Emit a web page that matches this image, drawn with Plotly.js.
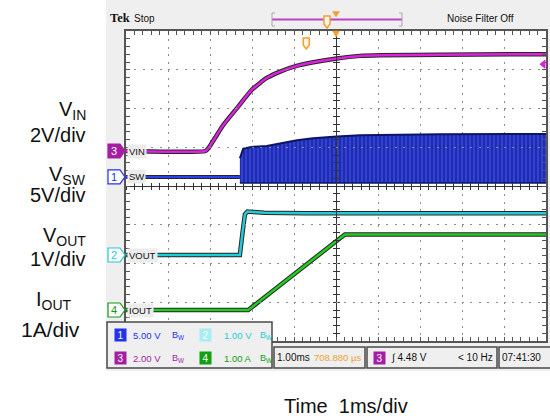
<!DOCTYPE html>
<html><head><meta charset="utf-8">
<script src="https://cdn.plot.ly/plotly-3.0.1.min.js"></script>
<style>html,body{margin:0;padding:0;background:#fff}#chart{width:550px;height:420px}</style>
</head><body><div id="chart"></div>
<script>
// ---------------- DATA (time in ms relative to trigger; amplitudes in V or A) ----------------
const H_POSITION_MS = 0.70888;          // "708.880 µs" horizontal position
const TIME_PER_DIV = 1;                 // 1.00 ms/div
const TRIG_LEVEL_V = 4.48;              // trigger on ch3 at 4.48 V

const VIN_T = [-4.29, -2.40, -2.33, -2.17, -1.975, -1.62, -1.30, -0.94, -0.62, -0.23, 0.17, 0.73, 1.28, 1.76, 3.19, 5.71];
const VIN_V = [0, 0, 0.14, 0.68, 1.34, 2.29, 3.15, 3.77, 4.10, 4.39, 4.58, 4.78, 4.91, 4.94, 4.97, 5.00];

const SW_IDLE_T = [-4.29, -1.58];
const SW_IDLE_V = [0, 0];
const SW_T    = [-1.58, -1.50, -1.30, -0.94, -0.22, 0.16, 0.73, 1.28, 3.19, 5.71];
const SW_HIGH = [2.40, 3.66, 3.87, 4.00, 4.73, 5.00, 5.20, 5.37, 5.50, 5.55];
const SW_LOW  = [-0.80, -0.80, -0.80, -0.80, -0.80, -0.80, -0.80, -0.80, -0.80, -0.80];

const VOUT_T = [-4.29, -1.58, -1.52, -1.46, -1.40, -1.00, 0.00, 2.00, 5.71];
const VOUT_V = [0, 0, 0.55, 1.05, 1.12, 1.09, 1.08, 1.08, 1.08];

const IOUT_T = [-4.29, -1.38, -0.80, -0.20, 0.40, 0.92, 2.00, 5.71];
const IOUT_A = [0, 0, 0.49, 1.00, 1.51, 1.95, 1.95, 1.95];

const CH_NAMES  = ['VIN', 'SW', 'VOUT', 'IOUT'];
const CH_SCALES = [2, 5, 1, 1];
const SIDE_LABELS = ['V<sub>IN</sub>', '2V/div', 'V<sub>SW</sub>', '5V/div', 'V<sub>OUT</sub>', '1V/div', 'I<sub>OUT</sub>', '1A/div'];
const X_LABEL = 'Time \u00a01ms/div';

// ---------------- LAYOUT / STYLE ----------------
const W = 550, H = 420;
const M = {l: 126, r: 4, t: 31, b: 79};
const PW = W - M.l - M.r, PH = H - M.t - M.b;
const px = x => (x - M.l) / PW;
const py = y => (H - M.b - y) / PH;

const SCOPE = '"Liberation Sans", Arial, sans-serif';
const MAIN = '"Liberation Sans", Arial, Helvetica, sans-serif';
const C = {blue: '#2233ee', cyan: '#22ccd6', purple: '#a41ea4', magenta: '#dd22dd', green: '#22cc22', dgreen: '#119911', orange: '#f0a030'};

// ground positions in divisions (from centre)
const GROUND_DIV = {VIN: 0.903, SW: 0.235, VOUT: -1.781, IOUT: -3.2};
const chRange = (g, s) => [(-4 - g) * s, (4 - g) * s];

const traces = [];
function pair(x, y, yaxis, color, w, shape) {
  const ln = shape === 'spline' ? {shape: 'spline', smoothing: 0.5} : {};
  traces.push({type: 'scatter', x, y, xaxis: 'x', yaxis, mode: 'lines', line: Object.assign({color: '#262626', width: w + 2}, ln), hoverinfo: 'skip', showlegend: false});
  traces.push({type: 'scatter', x, y, xaxis: 'x', yaxis, mode: 'lines', line: Object.assign({color, width: w}, ln), hoverinfo: 'skip', showlegend: false});
}
traces.push({type: 'scatter', x: SW_T, y: SW_LOW, xaxis: 'x', yaxis: 'y3', mode: 'lines', line: {color: '#0c1466', width: 1.5}, showlegend: false, hoverinfo: 'skip'});
traces.push({type: 'scatter', x: SW_T, y: SW_HIGH, xaxis: 'x', yaxis: 'y3', mode: 'lines', fill: 'tonexty', fillcolor: '#2c3cd4',
  fillpattern: {shape: '|', fgcolor: '#16207e', bgcolor: '#3040dc', size: 4, solidity: 0.3},
  line: {color: '#0c1466', width: 2}, showlegend: false, hoverinfo: 'skip'});
pair(SW_IDLE_T, SW_IDLE_V, 'y3', '#2a44f0', 2);
pair(VIN_T, VIN_V, 'y2', C.magenta, 2.5, 'spline');
pair(VOUT_T, VOUT_V, 'y4', C.cyan, 2.5);
pair(IOUT_T, IOUT_A, 'y5', C.green, 2.5);
// empty traces tying the centre cross-hair axes
traces.push({type: 'scatter', x: [], y: [], xaxis: 'x2', yaxis: 'y', showlegend: false});
traces.push({type: 'scatter', x: [], y: [], xaxis: 'x3', yaxis: 'y', showlegend: false});
traces.push({type: 'scatter', x: [], y: [], xaxis: 'x', yaxis: 'y6', showlegend: false});
traces.push({type: 'scatter', x: [], y: [], xaxis: 'x', yaxis: 'y7', showlegend: false});

const xr = [H_POSITION_MS - 5 * TIME_PER_DIV, H_POSITION_MS + 5 * TIME_PER_DIV];
const frame = {showticklabels: false, zeroline: false, fixedrange: true, showline: true, linecolor: '#555', linewidth: 2,
  mirror: 'allticks', ticks: 'inside', ticklen: 4, tickwidth: 1, tickcolor: '#555', showgrid: true, gridcolor: '#8c8c8c', gridwidth: 1};
const xaxis = Object.assign({}, frame, {range: xr, tick0: H_POSITION_MS, dtick: TIME_PER_DIV, griddash: '2px,5.75px',
  minor: {tick0: H_POSITION_MS, dtick: TIME_PER_DIV / 5, ticks: 'inside', ticklen: 4, tickcolor: '#555', showgrid: false}});
const yaxis = Object.assign({}, frame, {range: [-4, 4], tick0: 0, dtick: 1, griddash: '2px,6.4px',
  minor: {tick0: 0, dtick: 0.2, ticks: 'inside', ticklen: 4, tickcolor: '#555', showgrid: false}});
const cross = {showticklabels: false, zeroline: false, fixedrange: true, showgrid: false, showline: true, linecolor: '#333', linewidth: 1,
  ticklen: 3, tickwidth: 1, tickcolor: '#333', anchor: 'free', position: 0.5};
const x2 = Object.assign({}, cross, {overlaying: 'x', range: xr, tick0: H_POSITION_MS, dtick: TIME_PER_DIV / 5, ticks: 'outside'});
const x3 = Object.assign({}, cross, {overlaying: 'x', range: xr, tick0: H_POSITION_MS, dtick: TIME_PER_DIV / 5, ticks: 'inside'});
const y6 = Object.assign({}, cross, {overlaying: 'y', range: [-4, 4], tick0: 0, dtick: 0.2, ticks: 'outside'});
const y7 = Object.assign({}, cross, {overlaying: 'y', range: [-4, 4], tick0: 0, dtick: 0.2, ticks: 'inside'});
const hid = r => ({overlaying: 'y', range: r, fixedrange: true, showline: false, showgrid: false, zeroline: false, showticklabels: false, ticks: ''});

const shapes = [];
shapes.push({type: 'rect', xref: 'paper', yref: 'paper', x0: px(106), x1: px(551), y0: py(371), y1: py(0), fillcolor: '#efefef', line: {width: 0}, layer: 'below'});
shapes.push({type: 'rect', xref: 'paper', yref: 'paper', x0: 0, x1: 1, y0: 0, y1: 1, fillcolor: '#ffffff', line: {width: 0}, layer: 'below'});

const annotations = [];
function ann(text, x, y, o) {
  o = o || {};
  annotations.push({text, xref: 'paper', yref: 'paper', x: px(x), y: py(y), showarrow: false,
    xanchor: o.xa || 'left', yanchor: 'middle', font: {family: o.family || SCOPE, size: o.size || 10, color: o.color || '#111'}});
}

// channel ground markers + labels
const markerStyle = [
  {ax: 'y2', fill: C.purple, line: C.purple, txt: '3', tcol: '#fff'},
  {ax: 'y3', fill: '#ffffff', line: C.blue, txt: '1', tcol: C.blue},
  {ax: 'y4', fill: '#ffffff', line: C.cyan, txt: '2', tcol: C.cyan},
  {ax: 'y5', fill: '#ffffff', line: C.dgreen, txt: '4', tcol: C.dgreen}
];
markerStyle.forEach((m, i) => {
  shapes.push({type: 'path', xref: 'paper', yref: m.ax, xsizemode: 'pixel', ysizemode: 'pixel', xanchor: 0, yanchor: 0,
    path: 'M-18,7 L-6,7 L-1,0 L-6,-7 L-18,-7 Z', fillcolor: m.fill, line: {color: m.line, width: 1.2}, layer: 'above'});
  annotations.push({text: m.txt, xref: 'paper', yref: m.ax, x: 0, y: 0, xshift: -12, showarrow: false, xanchor: 'center', yanchor: 'middle',
    font: {family: SCOPE, size: 11, color: m.tcol}});
  annotations.push({text: CH_NAMES[i], xref: 'paper', yref: m.ax, x: 0, y: 0, xshift: 1, showarrow: false, xanchor: 'left', yanchor: 'middle',
    font: {family: SCOPE, size: 9.5, color: '#111'}, bgcolor: '#ececec', borderpad: 1});
});

// trigger level arrow (right edge, ch3 scale)
shapes.push({type: 'path', xref: 'paper', yref: 'y2', xsizemode: 'pixel', ysizemode: 'pixel', xanchor: 1, yanchor: TRIG_LEVEL_V,
  path: 'M-6,0 L-1,4 L-1,-4 Z', fillcolor: C.magenta, line: {color: C.magenta, width: 1}, layer: 'above'});
// trigger point marker (t = 0)
shapes.push({type: 'path', xref: 'x', yref: 'paper', xsizemode: 'pixel', ysizemode: 'pixel', xanchor: 0, yanchor: py(38),
  path: 'M-3,0 L3,0 L3,-7 L0,-11 L-3,-7 Z', fillcolor: '#fff4e6', line: {color: C.orange, width: 1.5}, layer: 'above'});
// expansion point triangle at top of graticule
shapes.push({type: 'path', xref: 'paper', yref: 'paper', path: `M${px(332.5)},${py(31)} L${px(339.5)},${py(31)} L${px(336)},${py(37)} Z`,
  fillcolor: C.orange, line: {color: C.orange, width: 0.5}, layer: 'above'});

// top record bar
shapes.push({type: 'line', xref: 'paper', yref: 'paper', x0: px(272), x1: px(402), y0: py(19.5), y1: py(19.5), line: {color: '#c040c8', width: 2}});
shapes.push({type: 'path', xref: 'paper', yref: 'paper', path: `M${px(275)},${py(13)} L${px(272)},${py(13)} L${px(272)},${py(26)} L${px(275)},${py(26)}`, line: {color: '#a8a8a8', width: 1}});
shapes.push({type: 'path', xref: 'paper', yref: 'paper', path: `M${px(399)},${py(13)} L${px(402)},${py(13)} L${px(402)},${py(26)} L${px(399)},${py(26)}`, line: {color: '#a8a8a8', width: 1}});
shapes.push({type: 'path', xref: 'paper', yref: 'paper', path: `M${px(324)},${py(16)} L${px(330)},${py(16)} L${px(330)},${py(24)} L${px(327)},${py(28)} L${px(324)},${py(24)} Z`,
  fillcolor: '#fff4e6', line: {color: C.orange, width: 1.5}});
shapes.push({type: 'path', xref: 'paper', yref: 'paper', path: `M${px(332.5)},${py(11.5)} L${px(339.5)},${py(11.5)} L${px(336)},${py(17)} Z`,
  fillcolor: C.orange, line: {color: C.orange, width: 0.5}});

ann('<b>Tek</b>', 108, 17.5, {family: '"Liberation Serif", "DejaVu Serif", serif', size: 12.5});
ann('Stop', 132, 19, {size: 10});
ann('Noise Filter Off', 445, 19, {size: 10});

// info panels
const panel = (x0, x1, y0, y1) => shapes.push({type: 'rect', xref: 'paper', yref: 'paper', x0: px(x0), x1: px(x1), y0: py(y1), y1: py(y0),
  fillcolor: '#efefef', line: {color: '#4a4a4a', width: 1.5}, layer: 'above'});
panel(107, 272, 322, 368);
panel(274, 365, 347, 368);
panel(367, 497, 347, 368);
panel(499, 556, 347, 368);

const badge = (t, x, y, bg) => annotations.push({text: t, xref: 'paper', yref: 'paper', x: px(x), y: py(y), showarrow: false,
  xanchor: 'center', yanchor: 'middle', width: 11, height: 12, bgcolor: bg, borderpad: 0, font: {family: SCOPE, size: 10, color: '#fff'}});
badge('1', 120, 335, C.blue); badge('3', 120, 358, C.purple); badge('2', 205, 335, '#a6eef2'); badge('4', 205, 358, '#11a011');
ann(CH_SCALES[1].toFixed(2) + ' V', 131, 335, {color: C.blue, size: 9.5});
ann('B<sub>W</sub>', 170, 335, {color: C.blue, size: 9});
ann(CH_SCALES[2].toFixed(2) + ' V', 222, 335, {color: C.cyan, size: 9.5});
ann('B<sub>W</sub>', 258, 335, {color: C.cyan, size: 9});
ann(CH_SCALES[0].toFixed(2) + ' V', 131, 358, {color: C.purple, size: 9.5});
ann('B<sub>W</sub>', 170, 358, {color: C.purple, size: 9});
ann(CH_SCALES[3].toFixed(2) + ' A', 222, 358, {color: '#11a011', size: 9.5});
ann('B<sub>W</sub>', 258, 358, {color: '#11a011', size: 9});
ann(TIME_PER_DIV.toFixed(2) + 'ms', 275, 357.5, {size: 10});
ann((H_POSITION_MS * 1000).toFixed(3) + ' µs', 312, 357.5, {size: 9.5, color: C.orange});
badge('3', 379, 357.5, C.purple);
ann('\u222B ' + TRIG_LEVEL_V.toFixed(2) + ' V', 389, 357.5, {size: 10});
ann('< 10 Hz', 495, 357.5, {size: 10, xa: 'right'});
ann('07:41:30', 500, 357.5, {size: 10});

// side labels
const sidePos = [[88, 110, 'right'], [88, 134.5, 'right'], [88, 175.5, 'right'], [88, 195, 'right'],
  [88, 236.5, 'right'], [88, 258.5, 'right'], [54, 300, 'center'], [50, 329, 'center']];
SIDE_LABELS.forEach((t, i) => ann(t, sidePos[i][0], sidePos[i][1], {family: MAIN, size: i === 7 ? 21 : 20, xa: sidePos[i][2], color: '#111'}));
ann(X_LABEL, 346, 405.5, {family: MAIN, size: 20, xa: 'center', color: '#111'});

const layout = {
  width: W, height: H, margin: M, paper_bgcolor: '#ffffff', plot_bgcolor: 'rgba(0,0,0,0)', showlegend: false,
  xaxis, xaxis2: x2, xaxis3: x3, yaxis,
  yaxis2: hid(chRange(GROUND_DIV.VIN, CH_SCALES[0])),
  yaxis3: hid(chRange(GROUND_DIV.SW, CH_SCALES[1])),
  yaxis4: hid(chRange(GROUND_DIV.VOUT, CH_SCALES[2])),
  yaxis5: hid(chRange(GROUND_DIV.IOUT, CH_SCALES[3])),
  yaxis6: y6, yaxis7: y7,
  shapes, annotations
};
Plotly.newPlot('chart', traces, layout, {displayModeBar: false, staticPlot: true});
</script></body></html>
